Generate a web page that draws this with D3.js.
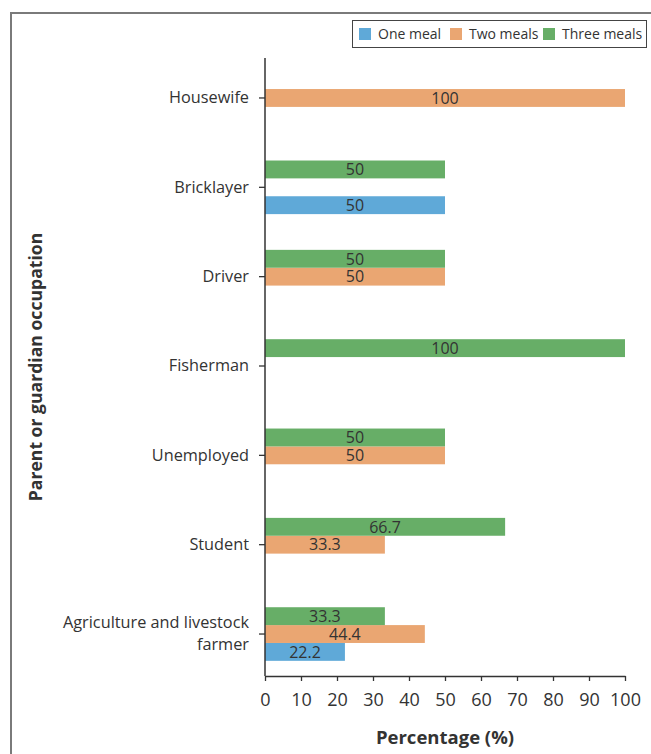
<!DOCTYPE html>
<html>
<head>
<meta charset="utf-8">
<script src="https://cdn.jsdelivr.net/npm/d3@7"></script>
<style>
  html, body { margin: 0; padding: 0; background: #fff; }
  svg { display: block; font-family: "Open Sans", Lato, sans-serif; }
</style>
</head>
<body>
<svg id="chart" width="651" height="754"></svg>
<script>
// Occupations, top to bottom
const categories = ["Housewife", "Bricklayer", "Driver", "Fisherman", "Unemployed", "Student", "Agriculture and livestock farmer"];
// Meals per day: percentage of respondents in each occupation
const seriesNames = ["One meal", "Two meals", "Three meals"];
const oneMeal    = [null, 50, null, null, null, null, 22.2];
const twoMeals   = [100, null, 50, null, 50, 33.3, 44.4];
const threeMeals = [null, 50, 50, 100, 50, 66.7, 33.3];
const xTicks = [0, 10, 20, 30, 40, 50, 60, 70, 80, 90, 100];
const colors = ["#5fa9d8", "#eaa672", "#67ae67"];

const seriesValues = [oneMeal, twoMeals, threeMeals];
const svg = d3.select("#chart");
const textColor = "#333";
const font = "'Open Sans', sans-serif";

// outer frame
svg.append("rect").attr("x", 11).attr("y", 13).attr("width", 700).attr("height", 800)
  .attr("fill", "none").attr("stroke", "#7a7a7a").attr("stroke-width", 2);

const x = d3.scaleLinear().domain([0, 100]).range([265, 625]);
const y0 = d3.scaleBand().domain(categories).range([53.3, 678.7]).paddingInner(0.4).paddingOuter(0.2);
// within each group: three meals on top, then two, then one
const y1 = d3.scaleBand().domain(["Three meals", "Two meals", "One meal"]).range([0, y0.bandwidth()]);

// bars
const rows = [];
categories.forEach((c, i) => {
  seriesNames.forEach((s, j) => {
    const v = seriesValues[j][i];
    if (v != null) rows.push({ cat: c, series: s, value: v, color: colors[j] });
  });
});

const bars = svg.append("g");
bars.selectAll("rect").data(rows).join("rect")
  .attr("x", x(0))
  .attr("y", d => y0(d.cat) + y1(d.series))
  .attr("width", d => x(d.value) - x(0))
  .attr("height", y1.bandwidth())
  .attr("fill", d => d.color);

bars.selectAll("text").data(rows).join("text")
  .attr("x", d => (x(0) + x(d.value)) / 2)
  .attr("y", d => y0(d.cat) + y1(d.series) + y1.bandwidth() / 2)
  .attr("dy", "0.36em")
  .attr("text-anchor", "middle")
  .attr("font-size", 16)
  .attr("fill", textColor)
  .text(d => d.value);

// x axis
const xAxis = svg.append("g").attr("transform", "translate(0,676)")
  .call(d3.axisBottom(x).tickValues(xTicks).tickSize(5).tickSizeOuter(0).tickPadding(12));
xAxis.select(".domain").attr("stroke", "#333").attr("stroke-width", 1.5);
xAxis.selectAll(".tick line").attr("stroke", "#333").attr("stroke-width", 1.3);
xAxis.selectAll(".tick text").attr("font-size", 18).attr("fill", textColor).attr("font-family", font);

// y axis
const yAxis = svg.append("g").attr("transform", `translate(${x(0)},0)`)
  .call(d3.axisLeft(y0).tickSize(6).tickSizeOuter(0).tickPadding(10));
yAxis.select(".domain").remove();
yAxis.selectAll(".tick line").attr("stroke", "#333").attr("stroke-width", 1.3);
yAxis.selectAll(".tick text").attr("font-size", 16.3).attr("fill", textColor).attr("font-family", font)
  .each(function(d) {
    if (d === "Agriculture and livestock farmer") {
      const t = d3.select(this);
      t.text(null);
      t.append("tspan").attr("x", -16).attr("dy", "-0.4em").text("Agriculture and livestock");
      t.append("tspan").attr("x", -16).attr("dy", "1.4em").text("farmer");
    }
  });
svg.append("line").attr("x1", x(0)).attr("x2", x(0)).attr("y1", 58).attr("y2", 676)
  .attr("stroke", "#333").attr("stroke-width", 1.5);

// axis titles
svg.append("text").attr("x", 445).attr("y", 744).attr("text-anchor", "middle")
  .attr("font-size", 18.5).attr("font-weight", "bold").attr("fill", textColor)
  .text("Percentage (%)");
svg.append("text").attr("transform", "translate(42,367) rotate(-90)").attr("text-anchor", "middle")
  .attr("font-size", 17.6).attr("font-weight", "bold").attr("fill", textColor)
  .text("Parent or guardian occupation");

// legend
const legend = svg.append("g");
legend.append("rect").attr("x", 352.5).attr("y", 20.5).attr("width", 294).attr("height", 27)
  .attr("fill", "#fff").attr("stroke", "#444").attr("stroke-width", 1);
const legendX = [359, 450, 543];
seriesNames.forEach((s, j) => {
  legend.append("rect").attr("x", legendX[j]).attr("y", 28).attr("width", 12).attr("height", 12).attr("fill", colors[j]);
  legend.append("text").attr("x", legendX[j] + 19).attr("y", 39).attr("font-size", 14).attr("fill", textColor).text(s);
});
</script>
</body>
</html>
